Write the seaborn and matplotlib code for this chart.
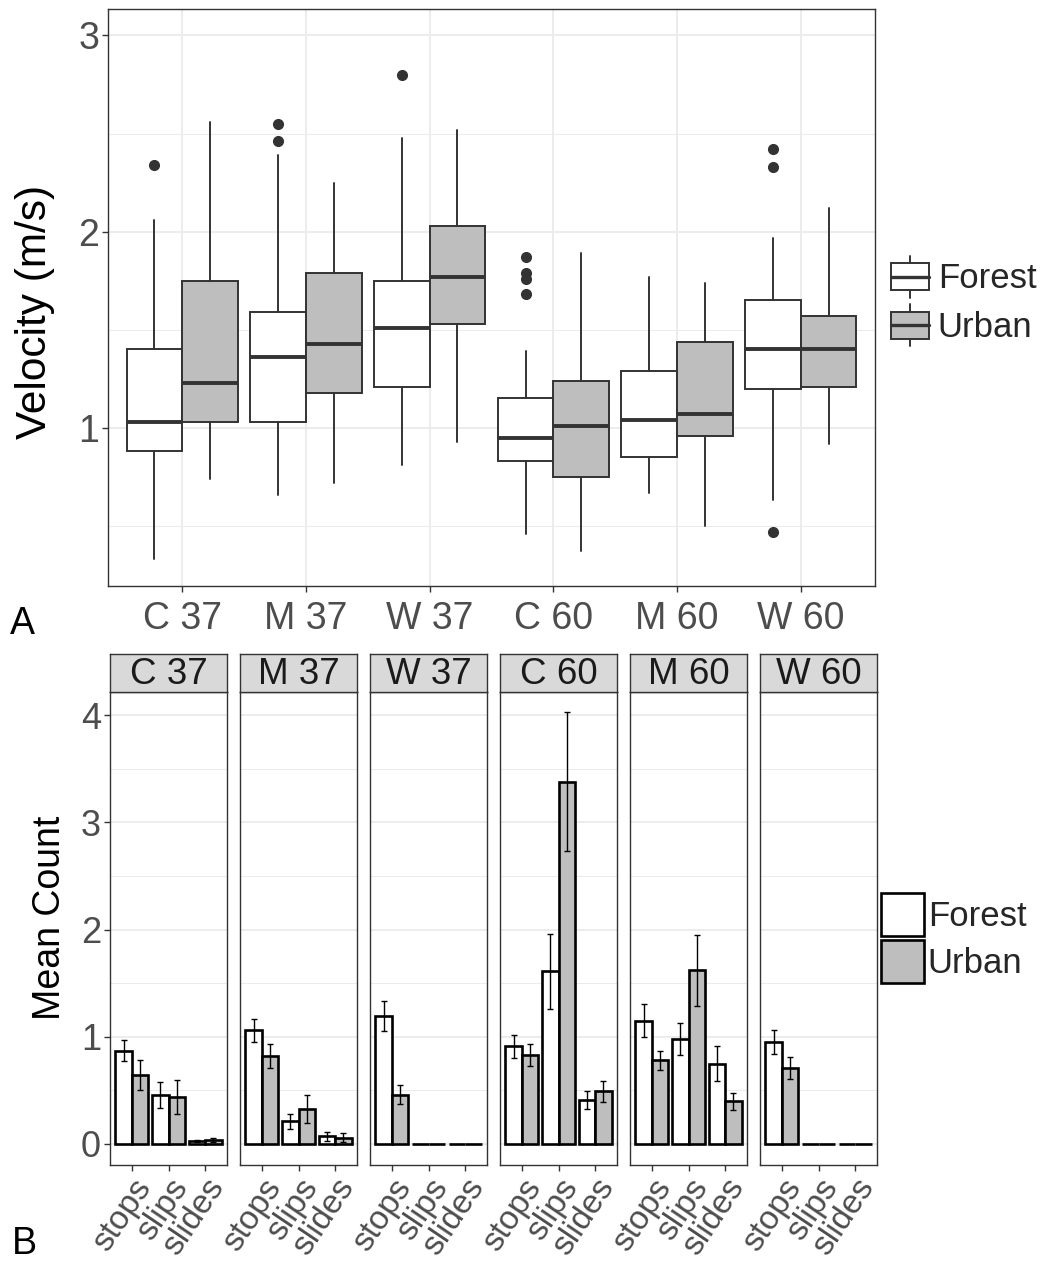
import numpy as np
import pandas as pd
import matplotlib
matplotlib.use("Agg")
import matplotlib.pyplot as plt
from matplotlib.patches import Rectangle, Patch
from matplotlib.lines import Line2D
from matplotlib.legend_handler import HandlerBase
import seaborn as sns

# ---------------------------------------------------------------- data
conditions = ["C 37", "M 37", "W 37", "C 60", "M 60", "W 60"]
habitats = ["Forest", "Urban"]
behaviours = ["stops", "slips", "slides"]

# Panel A: velocity (m/s) box summaries per condition
forest_whislo = [0.33, 0.66, 0.81, 0.46, 0.67, 0.63]
forest_q1 = [0.88, 1.03, 1.21, 0.83, 0.85, 1.20]
forest_med = [1.03, 1.36, 1.51, 0.95, 1.04, 1.40]
forest_q3 = [1.40, 1.59, 1.75, 1.15, 1.29, 1.65]
forest_whishi = [2.06, 2.39, 2.48, 1.39, 1.77, 1.97]
forest_fliers = [[2.34], [2.55, 2.46], [2.80], [1.87, 1.79, 1.76, 1.68], [], [2.42, 2.33, 0.47]]

urban_whislo = [0.74, 0.72, 0.93, 0.37, 0.50, 0.92]
urban_q1 = [1.03, 1.18, 1.53, 0.75, 0.96, 1.21]
urban_med = [1.23, 1.43, 1.77, 1.01, 1.07, 1.40]
urban_q3 = [1.75, 1.79, 2.03, 1.24, 1.44, 1.57]
urban_whishi = [2.56, 2.25, 2.52, 1.89, 1.74, 2.12]
urban_fliers = [[], [], [], [], [], []]

# Panel B: mean counts (stops, slips, slides) and standard errors
forest_mean = [[0.87, 0.46, 0.03], [1.06, 0.21, 0.07], [1.19, 0.00, 0.00],
               [0.91, 1.61, 0.41], [1.15, 0.98, 0.75], [0.95, 0.00, 0.00]]
forest_se = [[0.10, 0.12, 0.01], [0.11, 0.07, 0.04], [0.14, 0.00, 0.00],
             [0.105, 0.35, 0.085], [0.155, 0.15, 0.165], [0.11, 0.00, 0.00]]
urban_mean = [[0.64, 0.44, 0.04], [0.82, 0.33, 0.06], [0.46, 0.00, 0.00],
              [0.83, 3.38, 0.49], [0.78, 1.62, 0.40], [0.71, 0.00, 0.00]]
urban_se = [[0.14, 0.16, 0.02], [0.115, 0.13, 0.04], [0.09, 0.00, 0.00],
            [0.105, 0.65, 0.10], [0.09, 0.33, 0.08], [0.10, 0.00, 0.00]]

# ---------------------------------------------------------------- style
sns.set_theme(style="white")
plt.rcParams["font.family"] = ["Liberation Sans", "DejaVu Sans"]

DARK = "#333333"
GRID = "#EBEBEB"
TICKTXT = "#4D4D4D"
URBAN = "#BEBEBE"
fills = {"Forest": "white", "Urban": URBAN}

W, H = 1041, 1262
fig = plt.figure(figsize=(W / 100, H / 100), dpi=100)


def px_axes(l, t, r, b):
    return fig.add_axes([l / W, 1 - b / H, (r - l) / W, (b - t) / H])


def style_panel(ax):
    ax.set_facecolor("white")
    for s in ax.spines.values():
        s.set_visible(True)
        s.set_color(DARK)
        s.set_linewidth(1.0)
    ax.grid(True, which="major", color=GRID, lw=1.3)
    ax.grid(True, which="minor", axis="y", color=GRID, lw=0.7)
    ax.set_axisbelow(True)
    ax.tick_params(which="major", length=4.5, width=1.0, color=DARK,
                   labelcolor=TICKTXT, bottom=True, left=True)
    ax.tick_params(which="minor", length=0)


# ---------------------------------------------------------------- panel A
axA = px_axes(108, 9, 875, 586)
style_panel(axA)

summ = {
    "Forest": (forest_whislo, forest_q1, forest_med, forest_q3, forest_whishi, forest_fliers),
    "Urban": (urban_whislo, urban_q1, urban_med, urban_q3, urban_whishi, urban_fliers),
}
stats, positions, faces = [], [], []
for i in range(len(conditions)):
    for hab, off in (("Forest", -0.225), ("Urban", 0.225)):
        lo, q1, md, q3, hi, fl = summ[hab]
        stats.append(dict(whislo=lo[i], q1=q1[i], med=md[i], q3=q3[i],
                          whishi=hi[i], fliers=fl[i], label=f"{conditions[i]} {hab}"))
        positions.append(i + off)
        faces.append(fills[hab])

bp = axA.bxp(stats, positions=positions, widths=0.45, patch_artist=True,
             showcaps=False, manage_ticks=False,
             boxprops=dict(edgecolor=DARK, linewidth=1.4),
             medianprops=dict(color=DARK, linewidth=2.8, solid_capstyle="butt"),
             whiskerprops=dict(color=DARK, linewidth=1.4),
             flierprops=dict(marker="o", markerfacecolor=DARK,
                             markeredgecolor=DARK, markersize=7))
for patch, fc in zip(bp["boxes"], faces):
    patch.set_facecolor(fc)

axA.set_xlim(-0.6, len(conditions) - 0.4)
axA.set_ylim(0.194, 3.135)
axA.set_xticks(range(len(conditions)))
axA.set_xticklabels(conditions, fontsize=27)
axA.set_yticks([1, 2, 3])
axA.set_yticks([0.5, 1.5, 2.5], minor=True)
axA.set_yticklabels(["1", "2", "3"], fontsize=27)
axA.tick_params(axis="x", pad=6)
axA.tick_params(axis="y", pad=2)
fig.text(35 / W, 1 - 312 / H, "Velocity (m/s)", rotation=90, ha="center",
         va="center", fontsize=30.5, color="black")
fig.text(22 / W, 1 - 624 / H, "A", ha="center", va="center", fontsize=27,
         color="black")


class BoxKey(HandlerBase):
    """Legend key drawn as a small box-and-whisker glyph."""

    def create_artists(self, legend, orig_handle, xdescent, ydescent,
                       width, height, fontsize, trans):
        x0, y0 = -xdescent, -ydescent
        cx = x0 + width / 2
        bh = height * 0.64
        by = y0 + (height - bh) / 2
        fc = orig_handle.get_facecolor()
        w_lo = Line2D([cx, cx], [y0, by], color=DARK, lw=1.4, transform=trans)
        w_hi = Line2D([cx, cx], [by + bh, y0 + height], color=DARK, lw=1.4,
                      transform=trans)
        box = Rectangle((x0, by), width, bh, facecolor=fc, edgecolor=DARK,
                        lw=1.4, transform=trans)
        med = Line2D([x0, x0 + width], [by + bh / 2] * 2, color=DARK, lw=2.4,
                     transform=trans)
        return [w_lo, w_hi, box, med]


handlesA = [Patch(facecolor=fills[h]) for h in habitats]
fig.legend(handlesA, habitats, loc="center left",
           bbox_to_anchor=(891 / W, 1 - 301 / H), frameon=False, fontsize=25,
           handler_map={Patch: BoxKey()}, handlelength=1.1,
           handleheight=1.5, labelspacing=0.18, handletextpad=0.25,
           borderpad=0, borderaxespad=0)

# ---------------------------------------------------------------- panel B
rows = []
for i, cond in enumerate(conditions):
    for j, beh in enumerate(behaviours):
        rows.append((cond, beh, "Forest", forest_mean[i][j], forest_se[i][j]))
        rows.append((cond, beh, "Urban", urban_mean[i][j], urban_se[i][j]))
counts = pd.DataFrame(rows, columns=["condition", "behaviour", "habitat", "mean", "se"])

panel_w, gap = 117, 13
for i, cond in enumerate(conditions):
    left = 110 + i * (panel_w + gap)
    ax = px_axes(left, 692, left + panel_w, 1165)
    style_panel(ax)
    sub = counts[counts["condition"] == cond]
    sns.barplot(data=sub, x="behaviour", y="mean", hue="habitat",
                order=behaviours, hue_order=habitats, palette=fills,
                edgecolor="black", linewidth=1.9, errorbar=None, width=0.9,
                legend=False, ax=ax)
    for hab, off in (("Forest", -0.225), ("Urban", 0.225)):
        hs = sub[(sub["habitat"] == hab) & (sub["se"] > 0)]
        xs = [behaviours.index(b) + off for b in hs["behaviour"]]
        ax.errorbar(xs, hs["mean"], yerr=hs["se"], fmt="none", ecolor="black",
                    elinewidth=1.0, capsize=2.5, capthick=1.0, zorder=5)
    ax.set_xlim(-0.6, 2.6)
    ax.set_ylim(-0.196, 4.215)
    ax.set_yticks([0, 1, 2, 3, 4])
    ax.set_yticks([0.5, 1.5, 2.5, 3.5], minor=True)
    ax.set_xlabel("")
    ax.set_ylabel("")
    ax.set_xticks(range(3))
    ax.set_xticklabels(behaviours, fontsize=24, rotation=56, ha="right",
                       va="top", rotation_mode="anchor")
    ax.tick_params(axis="x", pad=1.5)
    if i == 0:
        ax.set_yticklabels(["0", "1", "2", "3", "4"], fontsize=26)
        ax.tick_params(axis="y", pad=2)
    else:
        ax.tick_params(axis="y", left=False, labelleft=False)

    strip = px_axes(left, 654, left + panel_w, 692)
    strip.set_facecolor("#D9D9D9")
    strip.set_xticks([])
    strip.set_yticks([])
    for s in strip.spines.values():
        s.set_visible(True)
        s.set_color(DARK)
        s.set_linewidth(1.0)
    strip.text(0.5, 0.45, cond, transform=strip.transAxes, ha="center",
               va="center", fontsize=26.5, color="#1A1A1A")

fig.text(50 / W, 1 - 918 / H, "Mean Count", rotation=90, ha="center",
         va="center", fontsize=27, color="black")
fig.text(24 / W, 1 - 1244 / H, "B", ha="center", va="center", fontsize=27,
         color="black")

handlesB = [Patch(facecolor=fills[h], edgecolor="black", linewidth=1.9) for h in habitats]
fig.legend(handlesB, habitats, loc="center left",
           bbox_to_anchor=(881 / W, 1 - 938 / H), frameon=False, fontsize=25,
           handlelength=1.25, handleheight=1.55, labelspacing=0.1,
           handletextpad=0.1, borderpad=0, borderaxespad=0)

fig.savefig("out.png", dpi=100, facecolor="white")
